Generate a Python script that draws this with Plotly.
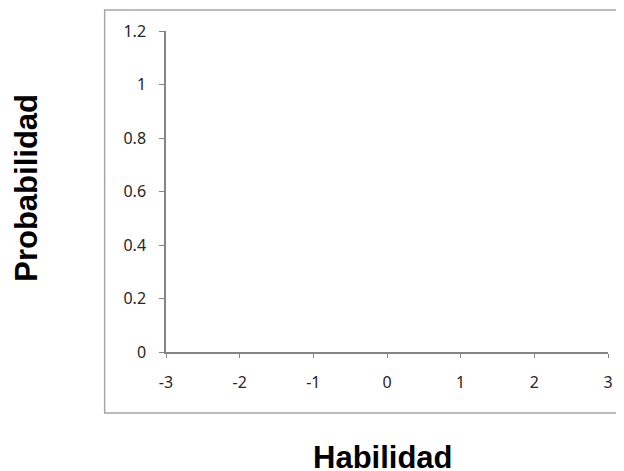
import plotly.graph_objects as go

# Data (the reference chart shows empty axes; no series plotted)
habilidad_values = []      # x values of the series (none shown)
probabilidad_values = []   # y values of the series (none shown)

x_tick_values = [-3, -2, -1, 0, 1, 2, 3]
x_tick_labels = ["-3", "-2", "-1", "0", "1", "2", "3"]
y_tick_values = [0, 0.2, 0.4, 0.6, 0.8, 1.0, 1.2]
y_tick_labels = ["0", "0.2", "0.4", "0.6", "0.8", "1", "1.2"]

x_title = "Habilidad"
y_title = "Probabilidad"

fig = go.Figure()
fig.add_trace(go.Scatter(x=habilidad_values, y=probabilidad_values, mode="lines",
                         line=dict(color="#4472C4"), showlegend=False))

axis_color = "#868686"
tick_font = dict(family="Noto Sans", size=16, color="#262626")

# The page body has an 8px margin, so the figure is sized to fit the window
fig.update_layout(
    width=616, height=463,
    margin=dict(l=157.5, r=15.5, t=23, b=119),
    paper_bgcolor="white", plot_bgcolor="white",
    showlegend=False,
    xaxis=dict(range=[-3, 3], tickvals=x_tick_values, ticktext=x_tick_labels,
               showgrid=False, zeroline=False, showline=True, linecolor=axis_color,
               linewidth=1.5, ticks="outside", ticklen=4, tickwidth=1, tickcolor=axis_color,
               tickfont=tick_font, ticklabelstandoff=11, fixedrange=True),
    yaxis=dict(range=[0, 1.2], tickvals=y_tick_values, ticktext=y_tick_labels,
               showgrid=False, zeroline=False, showline=True, linecolor=axis_color,
               linewidth=1.5, ticks="outside", ticklen=5, tickwidth=1, tickcolor=axis_color,
               tickfont=tick_font, ticklabelstandoff=10, fixedrange=True),
    shapes=[dict(type="rect", xref="paper", yref="paper",
                 x0=-0.1388, x1=1.0485, y0=-0.19, y1=1.0654,
                 line=dict(color="#a6a6a6", width=1.5), fillcolor="rgba(0,0,0,0)",
                 layer="below")],
    annotations=[
        dict(text=x_title, xref="paper", yref="paper", x=0.49, y=-0.330,
             xanchor="center", yanchor="middle", showarrow=False,
             font=dict(family="Liberation Sans", size=31, color="black", weight="bold")),
        dict(text=y_title, xref="paper", yref="paper", x=-0.315, y=0.511,
             xanchor="center", yanchor="middle", showarrow=False, textangle=-90,
             font=dict(family="Liberation Sans", size=31, color="black", weight="bold")),
    ],
)

fig.write_html("out.html")
